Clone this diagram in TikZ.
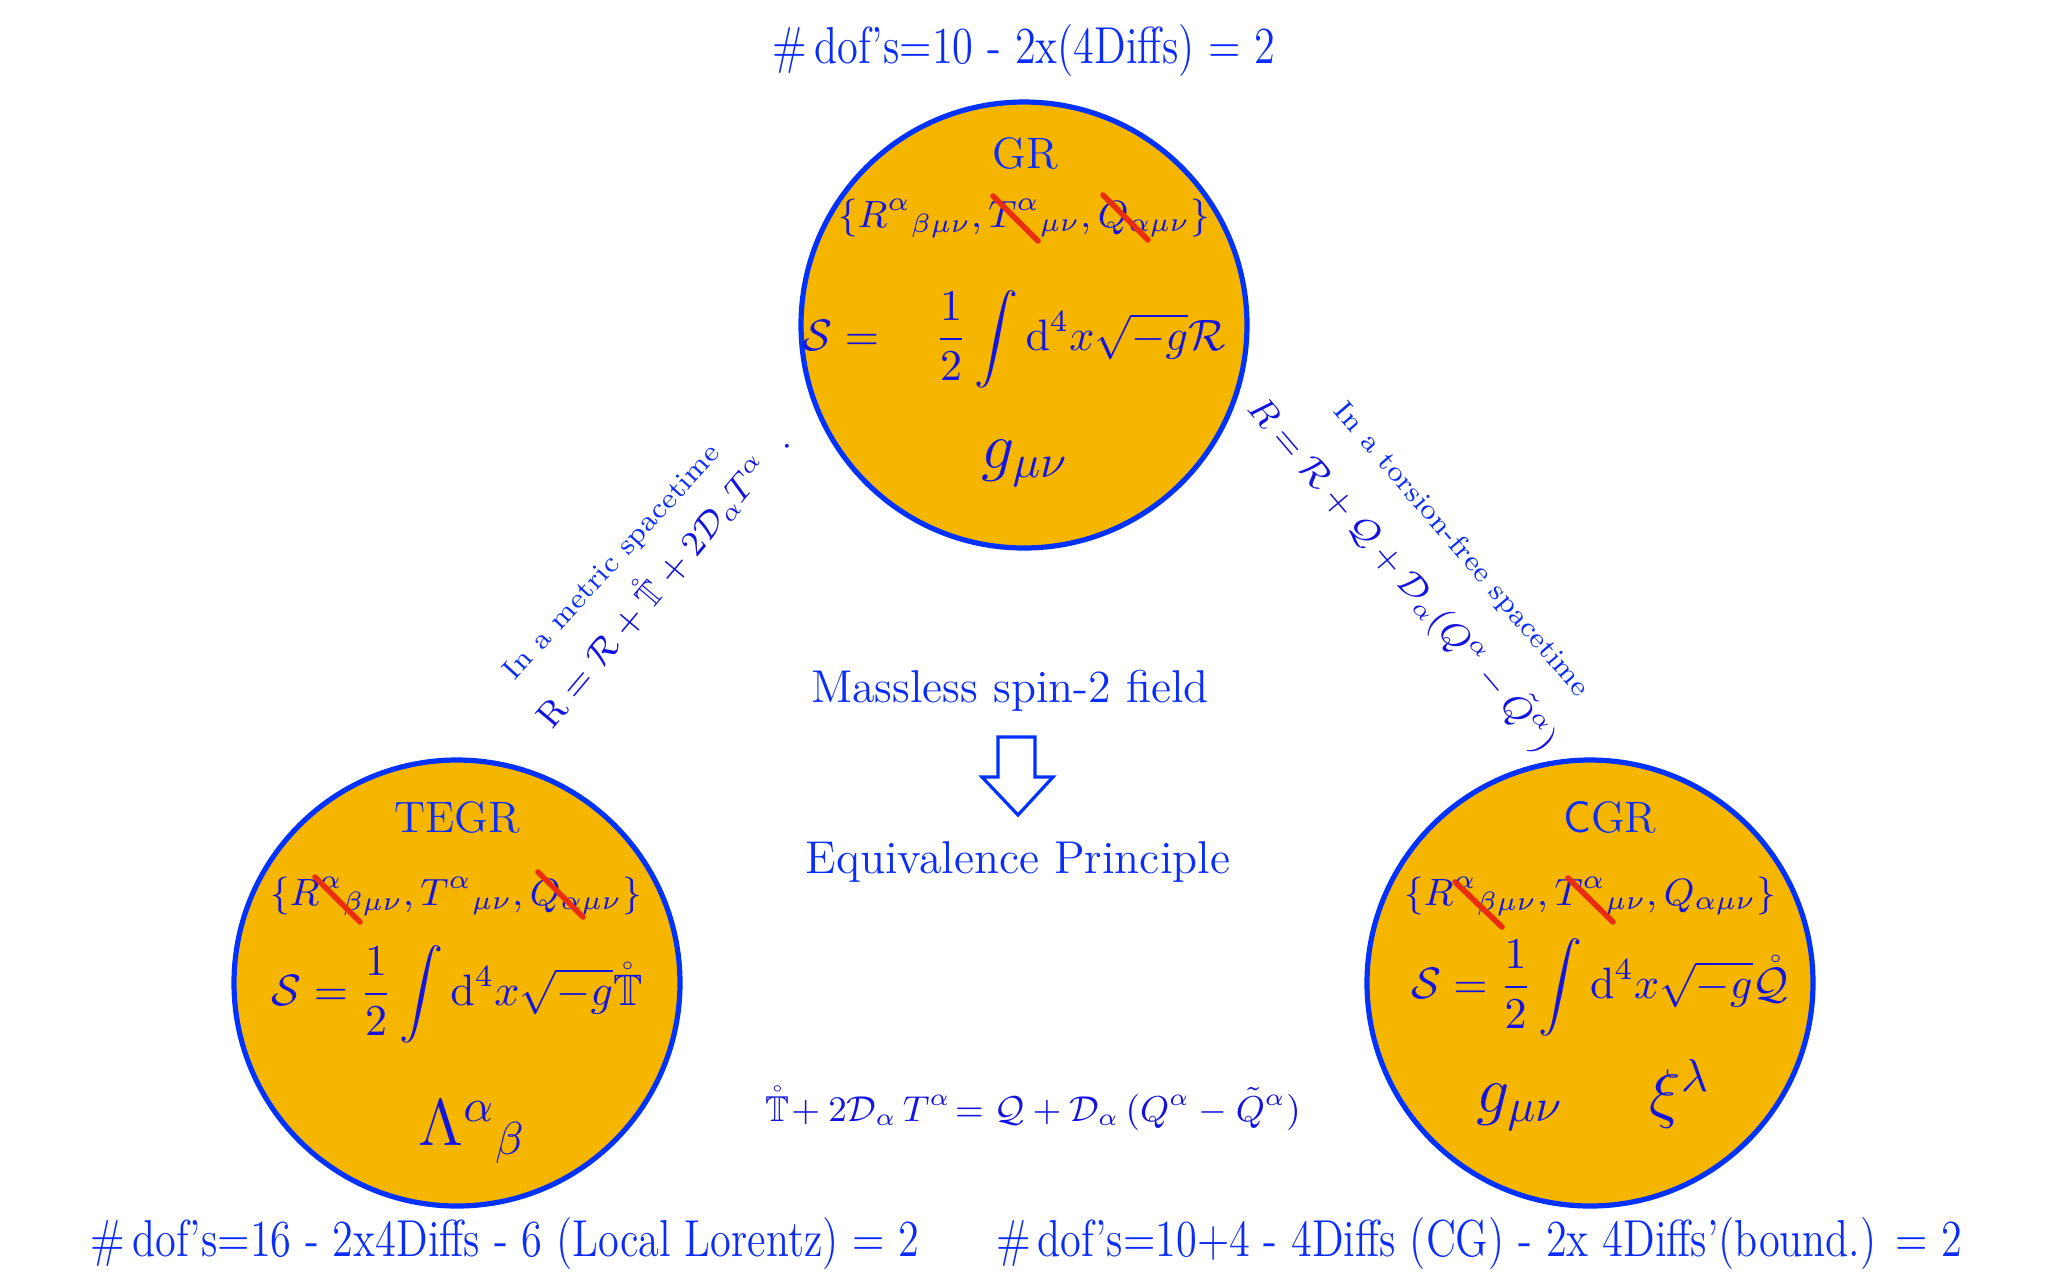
\RequirePackage{fix-cm}
\documentclass[tikz,border=0pt]{standalone}
\usepackage{amsmath,amssymb}
\definecolor{tblue}{RGB}{10,45,250}
\definecolor{mblue}{RGB}{20,20,225}
\definecolor{ringblue}{RGB}{0,50,255}
\definecolor{gold}{RGB}{246,182,0}
\definecolor{strikered}{RGB}{235,45,15}
\newcommand\fsz[1]{\fontsize{#1}{#1}\selectfont}
\newcommand\cond[1]{\scalebox{0.815}[1]{#1}}
\begin{document}
\begin{tikzpicture}[x=0.25pt,y=-0.25pt,
  every node/.style={inner sep=0pt,outer sep=0pt},
  ring/.style={circle,draw=ringblue,fill=gold,line width=1.3pt,minimum size=111.5pt},
  ttl/.style={text=tblue,font=\fsz{11}},
  lbl/.style={text=tblue,font=\fsz{11.5}},
  small/.style={text=tblue,font=\fsz{7.1}},
  dof/.style={text=tblue,font=\fsz{13},anchor=base},
  mth/.style={text=mblue},
  setf/.style={mth,font=\fsz{9.5},anchor=base},
  strk/.style={draw=strikered,line width=1.4pt,line cap=round},
  blockarrow/.style={draw=ringblue,line width=0.8pt,line join=miter}]
\useasboundingbox (0,0) rectangle (2046,1277);

% top text
\node[dof] (topdof) at (1024,63) {\cond{\#\,dof’s=10 - 2x(4Diffs) = 2}};

% GR circle
\node[ring] (gr) at (1024,325) {};
\node[ttl,anchor=base] (grT) at (1025,168) {GR};
\node[setf] (grSet) at (1024,227) {$\{R^{\alpha}{}_{\beta\mu\nu},T^{\alpha}{}_{\mu\nu},Q_{\alpha\mu\nu}\}$};
\draw[strk] (993,196) -- (1038,241);
\draw[strk] (1103,195) -- (1148,240);
\node[mth,font=\fsz{11},anchor=base] (grS) at (1014,350) {$\displaystyle \mathcal{S} = \quad \frac{1}{2}\int \mathrm{d}^4x\sqrt{-g}\mathcal{R}$};
\node[mth,font=\fsz{16.5},anchor=base] (grg) at (1025,468) {$g_{\mu\nu}$};

% TEGR circle
\node[ring] (tegr) at (457,983) {};
\node[ttl,anchor=base] (tegrT) at (457,832) {TEGR};
\node[setf] (tegrSet) at (456,905) {$\{R^{\alpha}{}_{\beta\mu\nu},T^{\alpha}{}_{\mu\nu},Q_{\alpha\mu\nu}\}$};
\draw[strk] (315,877) -- (360,922);
\draw[strk] (538,872) -- (583,917);
\node[mth,font=\fsz{11},anchor=base] (tegrS) at (457,1005) {$\displaystyle \mathcal{S} = \frac{1}{2}\int \mathrm{d}^4x\sqrt{-g}\mathring{\mathbb{T}}$};
\node[mth,font=\fsz{16.5},anchor=base] (tegrL) at (472,1145) {$\Lambda^{\alpha}{}_{\beta}$};

% CGR circle
\node[ring] (cgr) at (1590,983) {};
\node[ttl,anchor=base] (cgrT) at (1610,832) {{\sffamily C}GR};
\node[setf] (cgrSet) at (1590,905) {$\{R^{\alpha}{}_{\beta\mu\nu},T^{\alpha}{}_{\mu\nu},Q_{\alpha\mu\nu}\}$};
\draw[strk] (1455,882) -- (1502,927);
\draw[strk] (1568,878) -- (1613,922);
\node[mth,font=\fsz{11},anchor=base] (cgrS) at (1600,998) {$\displaystyle \mathcal{S} = \frac{1}{2}\int \mathrm{d}^4x\sqrt{-g}\mathring{\mathcal{Q}}$};
\node[mth,font=\fsz{16.5},anchor=base] (cgrg) at (1520,1112) {$g_{\mu\nu}$};
\node[mth,font=\fsz{16.5},anchor=base] (cgrxi) at (1680,1115) {$\xi^{\lambda}$};

% diagonal labels
\node[small,rotate=47.7] (lt) at (613,563) {In a metric spacetime};
\node[mth,font=\fsz{8.8},rotate=50,anchor=base west] (leq) at (552,730) {$\mathrm{R} = \mathcal{R} + \mathring{\mathbb{T}} + 2\mathcal{D}_{\alpha}T^{\alpha}\;\;.$};
\node[small,rotate=-49.5] (rt) at (1461,550) {In a torsion-free spacetime};
\node[mth,font=\fsz{9},rotate=-49.5] (req) at (1403,574) {$R = \mathcal{R} + \mathcal{Q} + \mathcal{D}_{\alpha}(Q^{\alpha} - \tilde{Q}^{\alpha})$};

% middle
\node[lbl,anchor=base] (mass) at (1010,702) {Massless spin-2 field};
\draw[blockarrow] (998,737) -- (1035,737) -- (1035,777) -- (1053,777) -- (1018,815) -- (982,777) -- (998,777) -- cycle;
\node[lbl,anchor=base] (ep) at (1018,873) {Equivalence Principle};

\node[mth,font=\fsz{9},anchor=base] (beq) at (1033,1121) {$\mathring{\mathbb{T}}\!+ 2\mathcal{D}_{\alpha}\,T^{\alpha}\!= \mathcal{Q} + \mathcal{D}_{\alpha}\,(Q^{\alpha} - \tilde{Q}^{\alpha})$};

% bottom texts
\node[dof] (ldof) at (505,1256) {\cond{\#\,dof’s=16 - 2x4Diffs - 6 (Local Lorentz) = 2}};
\node[dof] (rdof) at (1479,1256) {\cond{\#\,dof’s=10+4 - 4Diffs (CG) - 2x 4Diffs’(bound.) = 2}};
\end{tikzpicture}
\end{document}
